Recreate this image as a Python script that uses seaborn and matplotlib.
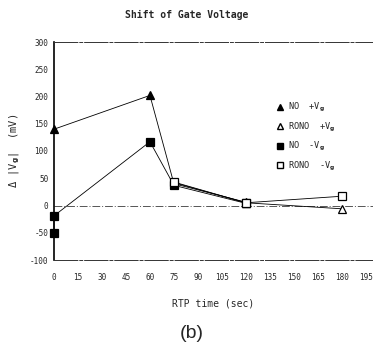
import matplotlib
matplotlib.use("Agg")
import matplotlib.pyplot as plt
from matplotlib.lines import Line2D
import seaborn as sns
import pandas as pd

# Data
no_pos_x = [0, 60, 75, 120]
no_pos_y = [140, 202, 40, 6]
rono_pos_x = [75, 120, 180]
rono_pos_y = [42, 5, -6]
no_neg_x = [0, 0, 60, 75, 120]
no_neg_y = [-50, -19, 117, 37, 4]
rono_neg_x = [75, 120, 180]
rono_neg_y = [43, 5, 17]

series_names = ["NO  +V$_\\mathbf{g}$", "RONO  +V$_\\mathbf{g}$",
                "NO  -V$_\\mathbf{g}$", "RONO  -V$_\\mathbf{g}$"]
x_ticks = list(range(0, 196, 15))
y_ticks = list(range(-100, 301, 50))

sns.set_style("white")
plt.rcParams["font.family"] = ["DejaVu Sans Mono", "DejaVu Sans"]

fig = plt.figure(figsize=(3.73, 3.48), dpi=100)
ax = fig.add_axes([54 / 373, 1 - 260 / 348, 1 - 54 / 373, (260 - 42) / 348])

specs = [
    (no_pos_x, no_pos_y, "^", "black"),
    (rono_pos_x, rono_pos_y, "^", "white"),
    (no_neg_x, no_neg_y, "s", "black"),
    (rono_neg_x, rono_neg_y, "s", "white"),
]
for (xs, ys, mk, fc), name in zip(specs, series_names):
    df = pd.DataFrame({"x": xs, "y": ys})
    sns.lineplot(data=df, x="x", y="y", ax=ax, estimator=None, sort=False,
                 color="black", lw=0.6, marker=mk, markersize=5.5,
                 markerfacecolor=fc, markeredgecolor="black", markeredgewidth=0.9,
                 legend=False, clip_on=False, zorder=5)

ax.axhline(0, color="#555555", lw=0.7, ls=(0, (8, 2, 1, 2)), zorder=0)

ax.set_xlim(0, 199.5)
ax.set_ylim(-100, 300)
ax.set_xticks(x_ticks)
ax.set_yticks(y_ticks)
ax.set_xticklabels([str(t) for t in x_ticks], fontsize=5.5)
ax.set_yticklabels([str(t) for t in y_ticks], fontsize=5.5)
ax.tick_params(axis="x", direction="out", length=3, width=0.6, pad=6)
ax.tick_params(axis="y", direction="inout", length=4, width=0.6, pad=2)

ax.spines["right"].set_visible(False)
ax.spines["left"].set_linewidth(1.2)
ax.spines["left"].set_color("black")
for s in ["top", "bottom"]:
    ax.spines[s].set_linewidth(0.7)
    ax.spines[s].set_color("#333333")
    ax.spines[s].set_linestyle((0, (24, 2, 3, 2)))

ax.set_xlabel("RTP time (sec)", fontsize=7, labelpad=12)
ax.set_ylabel("Δ |V$_\\mathbf{g}$|  (mV)", fontsize=7.5, labelpad=6)
fig.text(0.5, 1 - 15 / 348, "Shift of Gate Voltage", ha="center", va="center",
         fontsize=7, fontweight="bold")
fig.text(0.515, 1 - 333 / 348, "(b)", ha="center", va="center", fontsize=14,
         family=["Liberation Sans", "DejaVu Sans"])

handles = [
    Line2D([], [], ls="none", marker="^", markersize=5, markerfacecolor="black", markeredgecolor="black"),
    Line2D([], [], ls="none", marker="^", markersize=5, markerfacecolor="white", markeredgecolor="black"),
    Line2D([], [], ls="none", marker="s", markersize=4.5, markerfacecolor="black", markeredgecolor="black"),
    Line2D([], [], ls="none", marker="s", markersize=4.5, markerfacecolor="white", markeredgecolor="black"),
]
ax.legend(handles, series_names, loc="upper left", bbox_to_anchor=(0.67, 0.765),
          frameon=False, fontsize=6.2, labelspacing=0.75, handletextpad=0.4,
          handlelength=1.0)

fig.savefig("out.png", dpi=100)
